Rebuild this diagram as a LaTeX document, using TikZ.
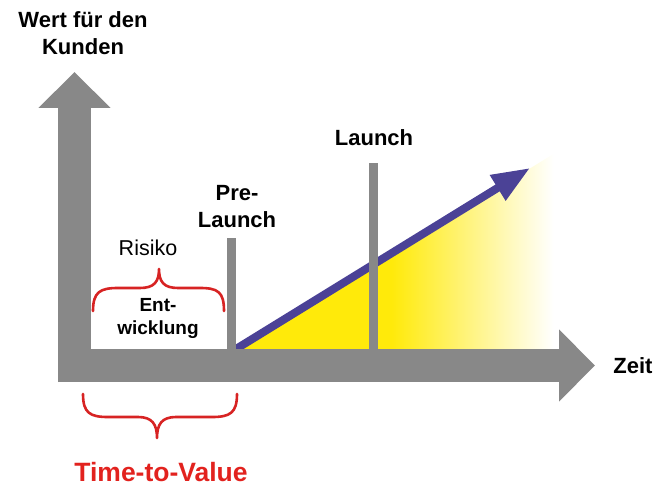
\documentclass[tikz,border=0pt]{standalone}
\usepackage{fontspec}
\setmainfont{Liberation Sans}
\usetikzlibrary{arrows.meta}
\definecolor{axisgrey}{RGB}{136,136,136}
\definecolor{valueblue}{RGB}{75,66,150}
\definecolor{valueyellow}{RGB}{255,234,10}
\definecolor{bracered}{RGB}{215,35,35}
\definecolor{ttvred}{RGB}{226,34,30}
\pgfdeclarehorizontalshading{valuefade}{100bp}{color(0bp)=(valueyellow); color(49bp)=(valueyellow); color(74bp)=(white); color(100bp)=(white)}

\begin{document}
\begin{tikzpicture}[x=1pt,y=-1pt]

%
% Styles
%
\tikzstyle{axis}      = [draw=axisgrey,line width=33pt,-{Triangle[length=36pt,width=70pt]}]
\tikzstyle{milestone} = [draw=axisgrey,line width=9pt]
\tikzstyle{growth}    = [draw=valueblue,line width=8pt,-{Triangle[length=38pt,width=28pt]}]
\tikzstyle{brace}     = [draw=bracered,line width=2.6pt,line cap=round,line join=round]
\tikzstyle{bold}      = [font=\bfseries\fontsize{22}{27}\selectfont,align=center,inner sep=0pt]
\tikzstyle{small}     = [font=\bfseries\fontsize{19}{23}\selectfont,align=center,inner sep=0pt]

\useasboundingbox (0,0) rectangle (665,487);

\coordinate (origin) at (58,365.5);
\coordinate (yfoot)  at (74.5,382);
\coordinate (ytop)   at (74.5,72);
\coordinate (xend)   at (595,365.5);
\coordinate (start)  at (236,349);
\coordinate (tip)    at (530,168);
\coordinate (pre)    at (231.5,349);
\coordinate (pretop) at (231.5,238);
\coordinate (go)     at (373.5,349);
\coordinate (gotop)  at (373.5,163);

% value area
\shade[shading=valuefade] (start) -- (560,150) -- (560,349) -- cycle;
\draw[growth] (start) -- (tip);

% milestones
\draw[milestone] (pre) -- (pretop);
\draw[milestone] (go) -- (gotop);

% axes
\draw[axis] (yfoot) -- (ytop);
\draw[axis] (origin) -- (xend);

% braces
\draw[brace] (93,311) .. controls (93,292) and (100,288) .. (118,288) -- (140,288)
  .. controls (154,288) and (159,282) .. (159,269)
  .. controls (159,282) and (164,288) .. (178,288) -- (200,288)
  .. controls (218,288) and (224,292) .. (224,311);
\draw[brace] (83,394) .. controls (83,413) and (90,417) .. (108,417) -- (138,417)
  .. controls (152,417) and (157,424) .. (157,438)
  .. controls (157,424) and (162,417) .. (176,417) -- (212,417)
  .. controls (230,417) and (237,413) .. (237,394);

% texts
\node[bold] (kunde)  at (83,33)   {Wert für den\\Kunden};
\node[bold] (zeit)   at (633,366) {Zeit};
\node[bold] (prel)   at (237,207) {Pre-\\Launch};
\node[bold] (launch) at (374,138) {Launch};
\node[inner sep=0pt,font=\fontsize{21.5}{26}\selectfont] (risiko) at (148,248) {Risiko};
\node[small] (entw)  at (158,318) {Ent-\\wicklung};
\node[anchor=base,inner sep=0pt,font=\bfseries\fontsize{26.5}{31}\selectfont,text=ttvred] (ttv) at (161,481) {Time-to-Value};

\end{tikzpicture}
\end{document}
